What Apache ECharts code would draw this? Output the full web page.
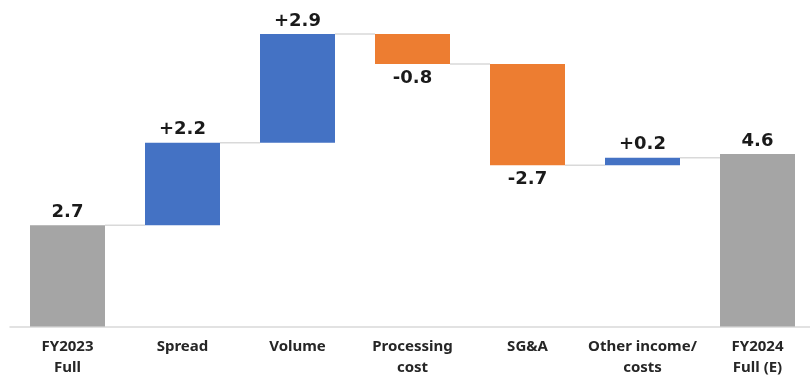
<!DOCTYPE html>
<html>
<head>
<meta charset="utf-8">
<script src="https://cdn.jsdelivr.net/npm/echarts@6/dist/echarts.min.js"></script>
<style>
  html, body { margin: 0; padding: 0; background: #fff; }
  #chart { width: 810px; height: 376px; }
</style>
</head>
<body>
<div id="chart"></div>
<script>
// Operating profit bridge, FY2023 -> FY2024 (E)
const categories = ['FY2023\nFull', 'Spread', 'Volume', 'Processing\ncost', 'SG&A', 'Other income/\ncosts', 'FY2024\nFull (E)'];
const startValue = 2.7;
const deltas = [2.2, 2.9, -0.8, -2.7, 0.2];
const endValue = 4.6;

const GRAY = '#a5a5a5', BLUE = '#4472c4', ORANGE = '#ed7d31';
const r1 = v => Math.round(v * 10) / 10;

// Build invisible base + visible segment for each column
const base = [0], visible = [startValue], labels = [startValue.toFixed(1)], colors = [GRAY], levels = [startValue];
let running = startValue;
deltas.forEach(d => {
  const next = r1(running + d);
  base.push(Math.min(running, next));
  visible.push(Math.abs(d));
  labels.push((d >= 0 ? '+' : '-') + Math.abs(d).toFixed(1));
  colors.push(d >= 0 ? BLUE : ORANGE);
  running = next;
  levels.push(running);
});
base.push(0); visible.push(endValue); labels.push(endValue.toFixed(1)); colors.push(GRAY);

const BAR_W = 75;
const chart = echarts.init(document.getElementById('chart'));
chart.setOption({
  animation: false,
  grid: { left: 10, top: 26.5, width: 805, height: 300, outerBoundsMode: 'none', containLabel: false },
  xAxis: {
    type: 'category',
    data: categories,
    axisLine: { lineStyle: { color: '#d9d9d9', width: 1.5 } },
    axisTick: { show: false },
    axisLabel: {
      interval: 0, margin: 10, color: '#262626',
      fontFamily: 'Noto Sans', fontWeight: 'bold', fontSize: 15, lineHeight: 21
    }
  },
  yAxis: { type: 'value', min: 0, max: 8, show: false, splitLine: { show: false } },
  series: [
    {
      type: 'bar', stack: 'wf', barWidth: BAR_W, silent: true,
      itemStyle: { color: 'transparent' },
      data: base
    },
    {
      type: 'bar', stack: 'wf', barWidth: BAR_W,
      data: visible.map((v, i) => {
        const isDrop = i > 0 && i < visible.length - 1 && deltas[i - 1] < 0;
        return {
          value: v,
          itemStyle: { color: colors[i] },
          label: {
            show: true,
            position: isDrop ? 'bottom' : 'top',
            distance: isDrop ? 5 : 4,
            formatter: labels[i],
            color: '#1a1a1a',
            fontFamily: 'DejaVu Sans', fontWeight: 'bold', fontSize: 18
          }
        };
      })
    },
    {
      // connector lines between neighbouring columns
      type: 'custom', silent: true, z: 1,
      data: levels.map((lv, i) => [i, lv]),
      renderItem: (params, api) => {
        const i = api.value(0), lv = api.value(1);
        const a = api.coord([i, lv]), b = api.coord([i + 1, lv]);
        return {
          type: 'line',
          shape: { x1: a[0] + BAR_W / 2, y1: a[1], x2: b[0] - BAR_W / 2, y2: b[1] },
          style: { stroke: '#d9d9d9', lineWidth: 1.5 }
        };
      }
    }
  ]
});
</script>
</body>
</html>
